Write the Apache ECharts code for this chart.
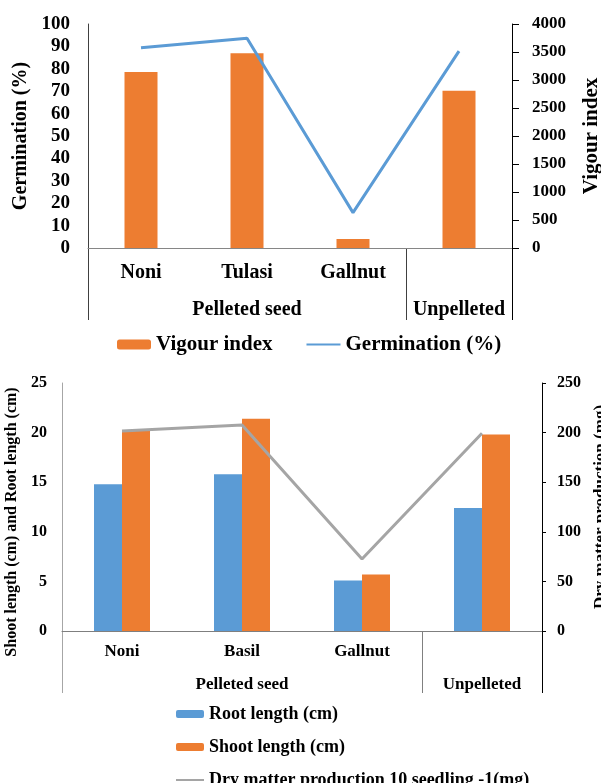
<!DOCTYPE html>
<html><head><meta charset="utf-8">
<script src="https://cdn.jsdelivr.net/npm/echarts@6/dist/echarts.min.js"></script>
<style>html,body{margin:0;padding:0;background:#fff}#c{width:601px;height:783px}</style>
</head><body><div id="c"></div><script>
// ---- data: top chart ----
const topCategories = ['Noni', 'Tulasi', 'Gallnut', ''];
const topGroups = ['', 'Pelleted seed', ' ', 'Unpelleted'];
const vigourIndex = [3143, 3476, 161, 2809];
const germination = [89.4, 93.6, 15.8, 87.9];
// ---- data: bottom chart ----
const bottomCategories = ['Noni', 'Basil', 'Gallnut', ''];
const bottomGroups = ['', 'Pelleted seed', ' ', 'Unpelleted'];
const rootLength = [14.8, 15.8, 5.1, 12.4];
const shootLength = [20.2, 21.4, 5.7, 19.8];
const dryMatter = [201.6, 207.7, 72.6, 199.3];

const FONT = "'Liberation Serif','Times New Roman',serif";
const txt = (size) => ({fontFamily: FONT, fontWeight: 'bold', fontSize: size, color: '#000'});
const BLUE = '#5B9BD5', ORANGE = '#ED7D31', GRAY = '#A5A5A5';
const plain = v => String(v);

const chart = echarts.init(document.getElementById('c'));
const option = {
  animation: false,
  backgroundColor: '#fff',
  grid: [
    {left: 88, right: 89, top: 24, height: 224, containLabel: false, outerBoundsMode: 'none'},
    {left: 62, right: 59, top: 383, height: 248, containLabel: false, outerBoundsMode: 'none'}
  ],
  legend: [
    {data: ['Vigour index', {name: 'Germination (%)', lineStyle: {width: 2}, itemStyle: {opacity: 0}}],
     left: 117, top: 334, padding: 0,
     itemWidth: 34, itemHeight: 10, itemGap: 33, textStyle: txt(21)},
    {data: ['Root length (cm)', 'Shoot length (cm)',
            {name: 'Dry matter production 10 seedling -1(mg)', lineStyle: {width: 2}, itemStyle: {opacity: 0}}],
     orient: 'vertical', left: 175, top: 704, height: 150, padding: 0, itemWidth: 28, itemHeight: 8, itemGap: 13,
     textStyle: Object.assign(txt(18), {lineHeight: 20})}
  ],
  xAxis: [
    {gridIndex: 0, type: 'category', data: topCategories,
     axisLine: {lineStyle: {color: '#868686'}}, axisTick: {show: false},
     axisLabel: Object.assign(txt(20), {margin: 15, interval: 0})},
    {gridIndex: 0, type: 'category', data: topGroups, position: 'bottom', offset: 37,
     axisLine: {show: false}, axisTick: {show: false},
     axisLabel: Object.assign(txt(20), {margin: 15, interval: 0})},
    {gridIndex: 1, type: 'category', data: bottomCategories,
     axisLine: {lineStyle: {color: '#7F7F7F'}}, axisTick: {show: false},
     axisLabel: Object.assign(txt(17), {margin: 12, interval: 0})},
    {gridIndex: 1, type: 'category', data: bottomGroups, position: 'bottom', offset: 33,
     axisLine: {show: false}, axisTick: {show: false},
     axisLabel: Object.assign(txt(17), {margin: 12, interval: 0})}
  ],
  yAxis: [
    {gridIndex: 0, type: 'value', min: 0, max: 100, interval: 10,
     name: 'Germination (%)', nameLocation: 'middle', nameRotate: 90, nameGap: 50, nameTextStyle: txt(20),
     axisLine: {show: true, lineStyle: {color: '#404040'}}, axisTick: {show: false}, splitLine: {show: false},
     axisLabel: Object.assign(txt(19), {margin: 18, formatter: plain})},
    {gridIndex: 0, type: 'value', min: 0, max: 4000, interval: 500, position: 'right',
     name: 'Vigour index', nameLocation: 'middle', nameRotate: 90, nameGap: 69, nameTextStyle: txt(21),
     axisLine: {show: true, lineStyle: {color: '#000'}}, axisTick: {show: true, length: 7, lineStyle: {color: '#000'}},
     splitLine: {show: false}, axisLabel: Object.assign(txt(17), {margin: 20, formatter: plain})},
    {gridIndex: 1, type: 'value', min: 0, max: 25, interval: 5,
     name: 'Shoot length (cm) and Root length (cm)', nameLocation: 'middle', nameRotate: 90, nameGap: 35,
     nameTextStyle: Object.assign(txt(16), {padding: [0, 30, 0, 0]}),
     axisLine: {show: true, lineStyle: {color: '#A6A6A6'}}, axisTick: {show: false}, splitLine: {show: false},
     axisLabel: Object.assign(txt(16), {margin: 15, formatter: plain})},
    {gridIndex: 1, type: 'value', min: 0, max: 250, interval: 50, position: 'right',
     name: 'Dry matter production (mg)', nameLocation: 'middle', nameRotate: 90, nameGap: 44, nameTextStyle: txt(17),
     axisLine: {show: true, lineStyle: {color: '#000'}}, axisTick: {show: true, length: 4, lineStyle: {color: '#000'}},
     splitLine: {show: false}, axisLabel: Object.assign(txt(16), {margin: 15, formatter: plain})}
  ],
  series: [
    {name: 'Vigour index', type: 'bar', xAxisIndex: 0, yAxisIndex: 1, data: vigourIndex, barWidth: 33,
     itemStyle: {color: ORANGE}},
    {name: 'Germination (%)', type: 'line', xAxisIndex: 0, yAxisIndex: 0, data: germination,
     symbol: 'none', lineStyle: {color: BLUE, width: 3}, itemStyle: {color: BLUE}},
    {name: 'Root length (cm)', type: 'bar', xAxisIndex: 2, yAxisIndex: 2, data: rootLength, barWidth: 28, barGap: '0%',
     itemStyle: {color: BLUE}},
    {name: 'Shoot length (cm)', type: 'bar', xAxisIndex: 2, yAxisIndex: 2, data: shootLength, barWidth: 28, barGap: '0%',
     itemStyle: {color: ORANGE}},
    {name: 'Dry matter production 10 seedling -1(mg)', type: 'line', xAxisIndex: 2, yAxisIndex: 3, data: dryMatter,
     symbol: 'none', lineStyle: {color: GRAY, width: 3}, itemStyle: {color: GRAY}}
  ]
};
chart.setOption(option);

// category-group separators, positioned from the axes' own scales
function separators(xi, yi, len, colors) {
  const p = i => chart.convertToPixel({xAxisIndex: xi}, i);
  const bw = p(1) - p(0);
  const y0 = chart.convertToPixel({yAxisIndex: yi}, 0);
  const xs = [p(0) - bw / 2, (p(2) + p(3)) / 2, p(3) + bw / 2];
  return xs.map((x, k) => {
    const xx = Math.round(x) + 0.5;
    return {type: 'line', silent: true, shape: {x1: xx, y1: y0, x2: xx, y2: y0 + len},
            style: {stroke: colors[k], lineWidth: 1}};
  });
}
chart.setOption({graphic: [].concat(
  separators(0, 0, 72, ['#404040', '#404040', '#000']),
  separators(2, 2, 62, ['#A6A6A6', '#808080', '#000'])
)});
</script></body></html>
